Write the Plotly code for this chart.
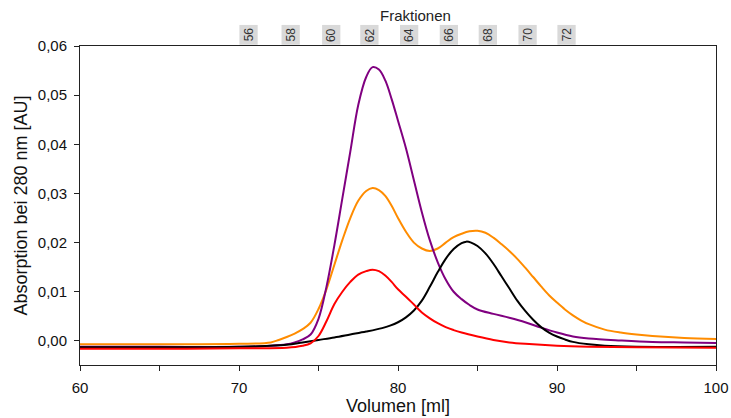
import plotly.graph_objects as go

# Elution volume (ml) and absorbance at 280 nm (AU) for each run
purple_x = [60, 65, 70, 72, 73, 73.5, 74, 74.5, 75, 75.5, 76, 76.5, 77, 77.5, 78, 78.4, 78.8, 79.2,
            79.6, 80, 80.5, 81, 81.5, 82, 82.5, 83, 83.5, 84, 84.5, 85, 86, 87, 88, 89, 90, 91, 92,
            94, 96, 98, 100]
purple_y = [-0.0012, -0.0012, -0.0012, -0.0010, -0.0007, -0.0003, 0.0003, 0.0013, 0.0045, 0.0110,
            0.0195, 0.0290, 0.0385, 0.0480, 0.0537, 0.0557, 0.0552, 0.0530, 0.0492, 0.0448, 0.0392,
            0.0327, 0.0262, 0.0205, 0.0160, 0.0125, 0.0100, 0.0085, 0.0073, 0.0064, 0.0055, 0.0047,
            0.0038, 0.0027, 0.0017, 0.0009, 0.0005, 0.0001, -0.0002, -0.0003, -0.0004]

orange_x = [60, 65, 70, 72, 72.5, 73, 73.5, 74, 74.5, 75, 75.5, 76, 76.5, 77, 77.5, 78, 78.4, 78.8,
            79.2, 79.6, 80, 80.5, 81, 81.5, 82, 82.5, 83, 83.5, 84, 84.5, 85, 85.5, 86, 86.5, 87,
            87.5, 88, 88.5, 89, 89.5, 90, 90.5, 91, 91.5, 92, 93, 94, 95, 96, 98, 100]
orange_y = [-0.0007, -0.0007, -0.0006, -0.0003, 0.0002, 0.0008, 0.0015, 0.0024, 0.0037, 0.0065,
            0.0105, 0.0155, 0.0205, 0.0250, 0.0285, 0.0305, 0.0311, 0.0307, 0.0295, 0.0275, 0.0250,
            0.0222, 0.0200, 0.0188, 0.0183, 0.0188, 0.0200, 0.0211, 0.0218, 0.0223, 0.0224, 0.0220,
            0.0210, 0.0197, 0.0183, 0.0167, 0.0149, 0.0130, 0.0111, 0.0093, 0.0078, 0.0064, 0.0052,
            0.0042, 0.0034, 0.0023, 0.0017, 0.0013, 0.0010, 0.0006, 0.0004]

red_x = [60, 65, 70, 73, 74, 74.5, 75, 75.5, 76, 76.5, 77, 77.5, 78, 78.4, 78.8, 79.2, 79.6, 80,
         80.5, 81, 81.5, 82, 82.5, 83, 83.5, 84, 85, 86, 87, 88, 90, 92, 95, 100]
red_y = [-0.0016, -0.0016, -0.0015, -0.0014, -0.0010, -0.0005, 0.0010, 0.0040, 0.0075, 0.0100,
         0.0120, 0.0135, 0.0142, 0.0145, 0.0142, 0.0133, 0.0120, 0.0105, 0.0090, 0.0074, 0.0058,
         0.0046, 0.0036, 0.0028, 0.0022, 0.0017, 0.0009, 0.0002, -0.0003, -0.0006, -0.0010,
         -0.0012, -0.0013, -0.0014]

black_x = [60, 65, 70, 73, 74, 75, 76, 77, 78, 79, 79.5, 80, 80.5, 81, 81.5, 82, 82.5, 83, 83.5,
           84, 84.3, 84.6, 85, 85.5, 86, 86.5, 87, 87.5, 88, 88.5, 89, 89.5, 90, 90.5, 91, 92, 93,
           95, 100]
black_y = [-0.0013, -0.0013, -0.0012, -0.0008, -0.0003, 0.0002, 0.0007, 0.0013, 0.0019, 0.0026,
           0.0031, 0.0038, 0.0048, 0.0062, 0.0082, 0.0110, 0.0140, 0.0167, 0.0187, 0.0199, 0.0202,
           0.0200, 0.0193, 0.0178, 0.0157, 0.0132, 0.0107, 0.0082, 0.0061, 0.0043, 0.0028, 0.0017,
           0.0009, 0.0003, -0.0002, -0.0007, -0.0010, -0.0012, -0.0012]

# Collected fractions (label and elution volume at its centre)
fraction_labels = ["56", "58", "60", "62", "64", "66", "68", "70", "72"]
fraction_pos = [70.6, 73.25, 75.8, 78.2, 80.7, 83.2, 85.65, 88.15, 90.6]
fraction_width = 1.15

FONT = "Liberation Sans, Arial, sans-serif"

fig = go.Figure()
for xs, ys, col in [(orange_x, orange_y, "#ff8c00"),
                    (purple_x, purple_y, "#800080"),
                    (black_x, black_y, "#000000"),
                    (red_x, red_y, "#ff0000")]:
    fig.add_trace(go.Scatter(x=xs, y=ys, mode="lines", line=dict(color=col, width=2, shape="spline"),
                             showlegend=False, hoverinfo="skip"))

# Fraction markers above the plot area
for lab, pos in zip(fraction_labels, fraction_pos):
    fig.add_shape(type="rect", xref="x", yref="paper",
                  x0=pos - fraction_width / 2, x1=pos + fraction_width / 2, y0=1.004, y1=1.066,
                  fillcolor="#d9d9d9", line=dict(width=0), layer="above")
    fig.add_annotation(x=pos, y=1.035, xref="x", yref="paper", text=lab, showarrow=False,
                       textangle=-90, xanchor="center", yanchor="middle",
                       font=dict(family=FONT, size=12, color="#333333"))

fig.add_annotation(x=0.528, y=1.097, xref="paper", yref="paper", text="Fraktionen",
                   showarrow=False, xanchor="center", yanchor="middle",
                   font=dict(family=FONT, size=15, color="#222222"))

fig.update_layout(
    width=731, height=418,
    margin=dict(l=80, r=15, t=46, b=53),
    paper_bgcolor="white", plot_bgcolor="white",
    separators=",.",
    font=dict(family=FONT, size=15, color="#111111"),
    xaxis=dict(range=[60, 100], dtick=10, ticks="outside", ticklen=5, tickcolor="#222",
               minor=dict(dtick=5, ticks="outside", ticklen=5, tickcolor="#222"),
               showline=True, linecolor="#222", linewidth=1, mirror=True,
               showgrid=False, zeroline=False, automargin=False, ticklabelstandoff=4,
               title=dict(text="Volumen [ml]", font=dict(size=18), standoff=1),
               tickfont=dict(size=15)),
    yaxis=dict(range=[-0.0049, 0.06], tickvals=[0, 0.01, 0.02, 0.03, 0.04, 0.05, 0.06],
               tickformat=".2f", ticks="outside", ticklen=5, tickcolor="#222",
               showline=True, linecolor="#222", linewidth=1, mirror=True,
               showgrid=False, zeroline=False, automargin=False, ticklabelstandoff=4,
               title=dict(text="Absorption bei 280 nm [AU]", font=dict(size=18), standoff=5),
               tickfont=dict(size=15)),
)

fig.write_html("out.html")
